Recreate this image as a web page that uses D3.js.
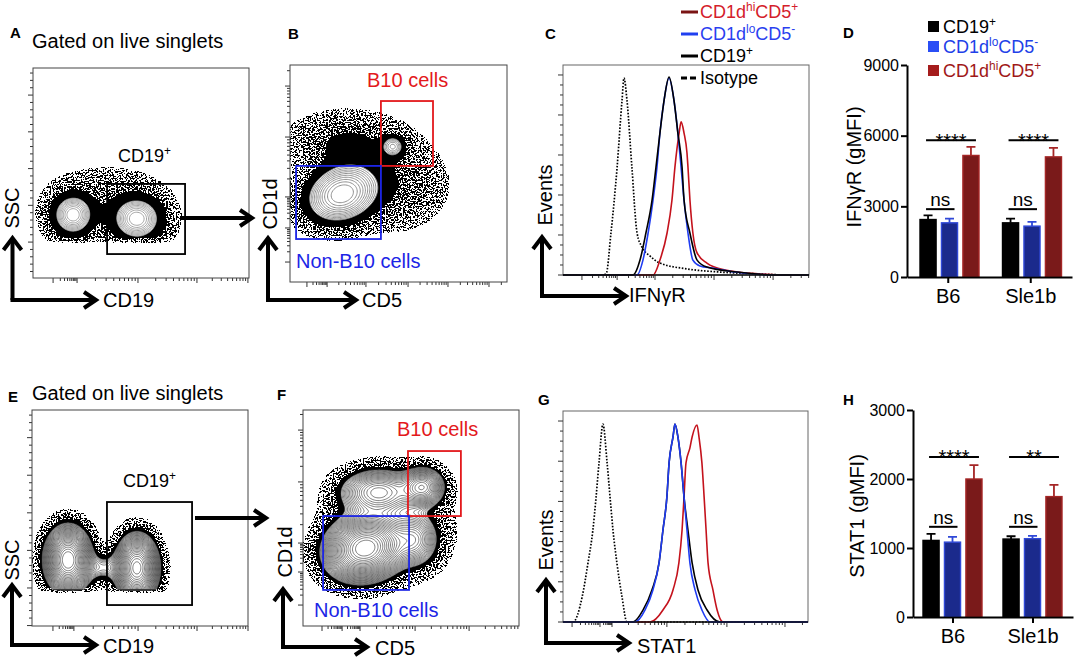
<!DOCTYPE html>
<html><head><meta charset="utf-8">
<script src="https://cdn.jsdelivr.net/npm/d3@7"></script>
<style>body{margin:0;background:#fff}</style>
</head><body>
<script>
// ---------- bar data ----------
const groups=['B6','Sle1b'];
const cellSets=['CD19+','CD1dloCD5-','CD1dhiCD5+'];
const ifngrMean=[[2440,2300,5160],[2300,2160,5100]];
const ifngrErr=[[180,180,365],[180,180,380]];
const ifngrTicks=[0,3000,6000,9000];
const ifngrSigText=[['ns','****'],['ns','****']];
const ifngrSigY=[2880,5810];
const stat1Mean=[[1110,1085,2000],[1130,1135,1745]];
const stat1Err=[[95,75,200],[40,40,170]];
const stat1Ticks=[0,1000,2000,3000];
const stat1SigText=[['ns','****'],['ns','**']];
const stat1SigY=[1307,2320];

// ---------- histogram data (x: % of axis width, y: % of axis height) ----------
const ifngrIso=[[0,0],[15,0],[17.5,0.5],[19.5,20],[22,51.4],[24,83.3],[24.8,93.8],[26,83.3],[28,51.4],[30.1,20],[32.1,13.3],[35.4,9],[39.4,5.7],[50.4,2.9],[63.8,1.4],[80,0.5],[92,0],[100,0]];
const ifngrCD19=[[0,0],[28.5,0],[31.3,7.1],[33.7,20],[36.2,35.7],[37.8,51.4],[39.4,67.6],[41.1,83.3],[43.1,94.3],[45.1,83.3],[46.7,67.6],[48.4,51.4],[49.2,35.7],[51.6,20],[54.5,7.1],[58.5,3.8],[70.7,1.4],[88,0],[100,0]];
const ifngrLo=[[0,0],[30.1,0],[32.5,7.1],[34.6,20],[36.6,35.7],[38.2,51.4],[39.4,67.6],[41.1,83.3],[43.1,93.8],[45.1,83.3],[46.7,67.6],[48,51.4],[49.2,35.7],[50.8,20],[52.8,7.1],[55.7,4.3],[60.6,3.3],[69.9,1.4],[86,0],[100,0]];
const ifngrHi=[[0,0],[36.6,0],[39.4,7.1],[42.3,20],[44.3,35.7],[45.5,51.4],[47.2,67.6],[48,72.9],[49.2,67.6],[50.4,58.1],[50.8,51.4],[51.6,35.7],[52.8,20],[54.5,10.5],[58.5,5.7],[65.9,2.4],[80,0.5],[92,0],[100,0]];
const stat1Iso=[[0,0],[4.1,0],[7.8,11.8],[10.2,28],[12.2,43.6],[13.5,59.2],[14.7,75.4],[16.3,93.8],[18,75.4],[19.2,59.2],[20.4,43.6],[22,28],[24.1,11.8],[26.1,0],[100,0]];
const stat1CD19=[[0,0],[28.6,0],[32.7,5.7],[36.3,15.2],[39.2,28],[40.8,43.6],[42.4,59.2],[43.3,75.4],[44.9,87.7],[45.7,93.8],[46.9,87.7],[48.2,75.4],[49.4,59.2],[51,43.6],[52.7,28],[55.1,15.2],[58.8,5.7],[64.1,0],[100,0]];
const stat1Lo=[[0,0],[29.4,0],[33.5,5.7],[36.7,15.2],[39.2,28],[40.8,43.6],[42.4,59.2],[43.3,75.4],[44.9,87.7],[45.7,93.8],[46.9,87.7],[48.2,75.4],[49.4,59.2],[50.6,43.6],[51.8,28],[53.9,15.2],[56.7,5.7],[60,0],[100,0]];
const stat1Hi=[[0,0],[35.5,0],[40.8,5.7],[44.9,15.2],[47.3,28],[48.6,43.6],[49.4,59.2],[50.2,75.4],[51.8,82.5],[52.7,87.7],[54.7,93.4],[55.5,87.7],[56.7,75.4],[57.6,59.2],[58.4,43.6],[59.2,28],[61.2,15.2],[62.9,5.7],[65.3,0],[100,0]];

// ---------- flow populations [cx, cy, sx, sy, tilt deg, weight] (plot units 0-100) ----------
const popA=[[18.5,30,5.6,5.8,0,1],[48.1,28.1,6.8,6.2,0,1],[34,38,14,8,0,0.06]];
const popB=[[23.8,40.5,9.7,7.3,20,1],[47.5,62.5,3.5,3.3,0,0.4],[26,64,15,8,0,0.14],[48,45,14,12,0,0.1]];
const popE=[[16.7,30.6,5.6,8,0,1],[48.6,26.9,5.2,8,0,0.95],[33,27,6,4,0,0.12]];
const popF=[[28.7,36,9.5,7.5,15,1],[35,62,10,6,0,0.35],[55.6,64.4,5.5,5,0,0.4],[52,40,6,7,0,0.25],[40,45,20,16,0,0.04]];
// gates [x0,y0,x1,y1]
const gateA=[34.3,11.4,70.4,44.8], gateE=[34.7,9.7,74.1,57.4];
const gateB10B=[41.9,53.5,65.9,83.4], gateNonB=[2.8,19.8,41.9,53.5];
const gateB10F=[48.6,50.9,73.1,81], gateNonF=[9.3,16.7,49.1,50.9];
// axis decades (plot units) and linear majors
const decA=[9.3,20.4,48.6,75.9,99.5], linA=[17.1,34.6,52.1,69.6,87.1];
const decBx=[7.8,17.1,35,54.4,72.8,91.7], decBy=[9.2,24.9,39.2,66.8,90.3];
const decE=[9.7,19.4,49.1,76.4,100], linE=[17.6,35,52.4,69.8,87.2];
const decFx=[8.8,18.1,26.4,51.9,76.9], decFy=[9.7,25,38.4,66.7,90.7];
const decC=[7.7,22,37.4,61.4,85.4], decG=[3.7,15.1,20,42.4,66.9,90.6];
const linHist=[19.05,38.1,57.1,76.2,95.2];

// ---------- styles ----------
const FONT="'Liberation Sans', Arial, Helvetica, sans-serif";
const barFill=['#000000','#1b2a8c','#7a1a1a'], barEdge=['#000000','#3049d8','#a52626'];
const RED='#e3191c', BLUE='#1c25e6';

const svg=d3.select('body').append('svg').attr('width',1074).attr('height',660).style('font-family',FONT);
const defs=svg.append('defs');
// density alpha -> stippled black dots
const flt=defs.append('filter').attr('id','speckle').attr('color-interpolation-filters','sRGB')
  .attr('x','-10%').attr('y','-10%').attr('width','120%').attr('height','120%');
flt.append('feGaussianBlur').attr('in','SourceAlpha').attr('stdDeviation',1.5).attr('result','sa');
flt.append('feTurbulence').attr('type','fractalNoise').attr('baseFrequency',0.6).attr('numOctaves',2).attr('seed',11).attr('result','noise');
flt.append('feColorMatrix').attr('in','noise').attr('type','matrix')
  .attr('values','0 0 0 0 0  0 0 0 0 0  0 0 0 0 0  12 0 0 0 -5.5').attr('result','na');
flt.append('feComposite').attr('in','sa').attr('in2','na').attr('operator','arithmetic')
  .attr('k1',0).attr('k2',8).attr('k3',-6).attr('k4',-0.1).attr('result','diff');
flt.append('feComponentTransfer').attr('in','diff').attr('result','thr').append('feFuncA').attr('type','discrete').attr('tableValues','0 1');
flt.append('feFlood').attr('flood-color','#000').attr('result','blk');
flt.append('feComposite').attr('in','blk').attr('in2','thr').attr('operator','in');

// text with superscripts: s = string or [[str, isSup], ...]
function txt(x,y,s,o={}){
  const fs=o.size||20;
  const t=svg.append('text').attr('x',x).attr('y',y).attr('font-size',fs).attr('fill',o.fill||'#000')
    .attr('text-anchor',o.anchor||'start');
  if(o.bold) t.attr('font-weight','bold');
  if(o.rot) t.attr('transform',`rotate(-90,${x},${y})`);
  if(typeof s==='string'){ t.text(s); return t; }
  let up=false;
  s.forEach(([str,sup])=>{
    const sp=t.append('tspan').text(str);
    if(sup){ sp.attr('font-size',fs*0.66); if(!up){sp.attr('dy',-fs*0.38); up=true;} }
    else if(up){ sp.attr('dy',fs*0.38); up=false; }
  });
  return t;
}

function arrows(x0,y0,yTop,xRight){
  const g=svg.append('g').attr('fill','none').attr('stroke','#000').attr('stroke-width',4);
  if(yTop!=null){
    g.append('path').attr('d',`M${x0},${yTop+3}V${y0}`);
    g.append('path').attr('d',`M${x0-9},${yTop+14}L${x0},${yTop+2}L${x0+9},${yTop+14}`);
  }
  g.append('path').attr('d',`M${x0-2},${y0}H${xRight-3}`);
  g.append('path').attr('d',`M${xRight-13},${y0-8}L${xRight-1},${y0}L${xRight-13},${y0+8}`);
}

function logTicks(dec){
  const step=dec[dec.length-1]-dec[dec.length-2], all=dec.slice();
  while(all[all.length-1]+step<=100.5) all.push(all[all.length-1]+step);
  const out=[];
  all.forEach((a,i)=>{
    out.push({v:a,major:true});
    const b=i+1<all.length?all[i+1]:a+step;
    for(let k=2;k<10;k++) out.push({v:a+(b-a)*Math.log10(k),major:false});
  });
  return out.filter(t=>t.v>=0&&t.v<=100);
}
function linTicks(maj,sub){
  const st=(maj[1]-maj[0])/sub, out=[];
  for(let k=-40;k<=40;k++){ const v=maj[0]+k*st; if(v>=0&&v<=100) out.push({v,major:((k%sub)+sub)%sub===0}); }
  return out;
}
function drawTicks(x,y,bottom,left){
  const g=svg.append('g').attr('stroke','#333').attr('stroke-width',1);
  const yb=y(0), xl=x(0);
  bottom.forEach(t=>g.append('line').attr('x1',x(t.v)).attr('x2',x(t.v)).attr('y1',yb).attr('y2',yb+(t.major?5:3)));
  left.forEach(t=>g.append('line').attr('y1',y(t.v)).attr('y2',y(t.v)).attr('x1',xl).attr('x2',xl-(t.major?5:3)));
}

let clipN=0;
function flowPanel(c){
  const [bx0,by0,bx1,by1]=c.box;
  const x=d3.scaleLinear([0,100],[bx0,bx1]), y=d3.scaleLinear([0,100],[by1,by0]);
  const n=180, vals=new Array(n*n);
  for(let j=0;j<n;j++){ const yd=100-(j+0.5)*100/n;
    for(let i=0;i<n;i++){ const xd=(i+0.5)*100/n; let v=0;
      if(yd>=c.floor) for(const [cx,cy,sx,sy,a,w] of c.pops){
        const t=a*Math.PI/180, dx=xd-cx, dy=yd-cy;
        const u=(dx*Math.cos(t)+dy*Math.sin(t))/sx, q=(-dx*Math.sin(t)+dy*Math.cos(t))/sy;
        v+=w*Math.exp(-0.5*(u*u+q*q)); }
      vals[j*n+i]=v; } }
  const vmax=d3.max(vals);
  const path=d3.geoPath(d3.geoTransform({point(px,py){this.stream.point(x(px*100/n),y(100-py*100/n));}}));
  const id='clip'+(clipN++);
  defs.append('clipPath').attr('id',id).append('rect').attr('x',bx0).attr('y',by0).attr('width',bx1-bx0).attr('height',by1-by0);
  const g=svg.append('g').attr('clip-path',`url(#${id})`);
  // dense dot halo
  const N=8, hl=d3.range(N).map(k=>c.lo*Math.pow(c.solid/c.lo,k/(N-1)));
  const halo=g.append('g').attr('filter','url(#speckle)');
  let prev=0;
  d3.contours().size([n,n]).thresholds(hl)(vals).forEach((m,k)=>{
    const A=0.1+(c.amax-0.1)*k/(N-1), a=1-(1-A)/(1-prev); prev=A;
    halo.append('path').attr('d',path(m)).attr('fill','#000').attr('fill-opacity',a);
  });
  // probability contours
  const cl=d3.range(c.nLines).map(k=>c.white*Math.pow(vmax*0.97/c.white,k/c.nLines));
  const cs=d3.contours().size([n,n]).thresholds(cl)(vals);
  g.append('path').attr('d',path(cs[0])).attr('fill','#fff');
  g.selectAll(null).data(cs).join('path').attr('d',d=>path(d)).attr('fill','none')
    .attr('stroke',c.line).attr('stroke-width',c.lw);
  // gates
  c.gates.forEach(([gt,col])=>svg.append('rect').attr('x',x(gt[0])).attr('y',y(gt[3]))
    .attr('width',x(gt[2])-x(gt[0])).attr('height',y(gt[1])-y(gt[3]))
    .attr('fill','none').attr('stroke',col).attr('stroke-width',1.8));
  drawTicks(x,y,logTicks(c.bx),c.ly.lin?linTicks(c.ly.lin,5):logTicks(c.ly.dec));
  svg.append('rect').attr('x',bx0).attr('y',by0).attr('width',bx1-bx0).attr('height',by1-by0)
    .attr('fill','none').attr('stroke','#444').attr('stroke-width',1);
}

function histPanel(c){
  const [bx0,by0,bx1,by1]=c.box;
  const x=d3.scaleLinear([0,100],[bx0,bx1]), y=d3.scaleLinear([0,100],[by1,by0]);
  svg.append('rect').attr('x',bx0).attr('y',by0).attr('width',bx1-bx0).attr('height',by1-by0)
    .attr('fill','none').attr('stroke','#666').attr('stroke-width',1);
  drawTicks(x,y,logTicks(c.dec),linTicks(linHist,4));
  const line=d3.line().x(d=>x(d[0])).y(d=>y(d[1])).curve(d3.curveMonotoneX);
  c.curves.forEach(([data,col,dash])=>svg.append('path').attr('d',line(data)).attr('fill','none')
    .attr('stroke',col).attr('stroke-width',dash?1.7:1.6).attr('stroke-dasharray',dash||null));
  svg.append('line').attr('x1',bx0).attr('x2',bx1).attr('y1',y(0)).attr('y2',y(0)).attr('stroke','#111').attr('stroke-width',1.4);
}

function barPanel(c){
  const y=d3.scaleLinear([0,c.max],[c.yb,c.yt]);
  const gx=d3.scaleBand(groups,[c.ax,c.xr]);
  const sx=d3.scaleBand(cellSets,c.inner).paddingInner(0.25);
  const bw=sx.bandwidth();
  groups.forEach((grp,gi)=>{
    cellSets.forEach((s,si)=>{
      const x0=gx(grp)+sx(s), m=c.mean[gi][si], top=y(m+c.err[gi][si]), cx=x0+bw/2;
      svg.append('path').attr('d',`M${cx},${y(m)}V${top}M${cx-4.5},${top}H${cx+4.5}`)
        .attr('stroke',barEdge[si]).attr('stroke-width',1.8).attr('fill','none');
      svg.append('rect').attr('x',x0).attr('y',y(m)).attr('width',bw).attr('height',y(0)-y(m))
        .attr('fill',barFill[si]).attr('stroke',barEdge[si]).attr('stroke-width',1.4);
    });
    c.sigText[gi].forEach((lab,j)=>{
      const xa=gx(grp)+sx(cellSets[0])+bw/2-2, xb=gx(grp)+sx(cellSets[j+1])+bw/2+5, yy=y(c.sigY[j]);
      svg.append('line').attr('x1',xa).attr('x2',xb).attr('y1',yy).attr('y2',yy).attr('stroke','#000').attr('stroke-width',2);
      txt((xa+xb)/2, lab==='ns'?yy-3:yy+7.5, lab, {size:lab==='ns'?19:20, anchor:'middle'});
    });
  });
  const ya=svg.append('g').attr('transform',`translate(${c.ax},0)`)
    .call(d3.axisLeft(y).tickValues(c.ticks).tickFormat(d3.format('d')).tickSize(6).tickSizeOuter(0).tickPadding(2));
  const xa=svg.append('g').attr('transform',`translate(0,${c.yb})`)
    .call(d3.axisBottom(gx).tickSize(6).tickSizeOuter(0).tickPadding(6));
  [ya,xa].forEach(a=>{ a.select('.domain').attr('stroke-width',2); a.selectAll('.tick line').attr('stroke-width',2);
    a.selectAll('text').style('font-family',FONT).attr('fill','#000'); });
  ya.selectAll('text').attr('font-size',16);
  xa.selectAll('text').attr('font-size',20);
}

// ================= top row =================
txt(10,38,'A',{size:15,bold:true});
txt(32,48,'Gated on live singlets');
flowPanel({box:[33,68,249,278],floor:17.6,pops:popA,lo:0.01,solid:0.12,white:0.42,amax:0.86,nLines:9,line:'#999',lw:0.9,
  gates:[[gateA,'#000']],bx:decA,ly:{lin:linA}});
txt(118,162,[['CD19',0],['+',1]],{size:18});
arrows(182,218,null,253);
arrows(12.5,300,236,97);
txt(19,208,'SSC',{rot:true,anchor:'middle'});
txt(103,307,'CD19');

txt(288,39,'B',{size:15,bold:true});
flowPanel({box:[290,65,507,282],floor:0,pops:popB,lo:0.018,solid:0.12,white:0.3,amax:0.86,nLines:11,line:'#8f8f8f',lw:1,
  gates:[[gateB10B,RED],[gateNonB,BLUE]],bx:decBx,ly:{dec:decBy}});
txt(367,87,'B10 cells',{fill:RED});
txt(296,268,'Non-B10 cells',{fill:BLUE});
arrows(268,300,236,357);
txt(277,204,'CD1d',{rot:true,anchor:'middle'});
txt(362,307,'CD5');

txt(545,39,'C',{size:15,bold:true});
histPanel({box:[563,65,809,275],dec:decC,curves:[[ifngrIso,'#000','1.6 1.6'],[ifngrHi,'#c4121c'],[ifngrLo,'#1f3cf2'],[ifngrCD19,'#000']]});
arrows(542,296,235,627);
txt(552,195,'Events',{rot:true,anchor:'middle'});
txt(629,302,'IFNγR');
// legend C
const legC=[[[['CD1d',0],['hi',1],['CD5',0],['+',1]],'#7a1414','#d4202a',null],
            [[['CD1d',0],['lo',1],['CD5',0],['-',1]],'#2040f0','#2a3ff0',null],
            [[['CD19',0],['+',1]],'#000','#000',null],
            ['Isotype','#000','#000','6 3']];
legC.forEach(([lab,lc,tc,dash],i)=>{
  const yb=18+i*22;
  svg.append('line').attr('x1',681).attr('x2',698).attr('y1',yb-6).attr('y2',yb-6).attr('stroke',lc)
    .attr('stroke-width',3).attr('stroke-dasharray',dash);
  txt(700,yb,lab,{size:18,fill:tc});
});

txt(843,38,'D',{size:15,bold:true});
barPanel({ax:907,xr:1072,yt:65,yb:277,max:9000,inner:[13,72],ticks:ifngrTicks,mean:ifngrMean,err:ifngrErr,sigText:ifngrSigText,sigY:ifngrSigY});
txt(861,167,'IFNγR (gMFI)',{rot:true,anchor:'middle'});
const legD=[[[['CD19',0],['+',1]],'#000','#000'],[[['CD1d',0],['lo',1],['CD5',0],['-',1]],'#2a4ef5','#2140e8'],[[['CD1d',0],['hi',1],['CD5',0],['+',1]],'#a51c1c','#a01818']];
legD.forEach(([lab,sq,tc],i)=>{
  const yb=[33,53,77][i];
  svg.append('rect').attr('x',928).attr('y',yb-12).attr('width',11).attr('height',11).attr('fill',sq);
  txt(943,yb,lab,{size:18,fill:tc});
});

// ================= bottom row =================
txt(8,402,'E',{size:15,bold:true});
txt(32,400,'Gated on live singlets');
flowPanel({box:[32,410,248,626],floor:16.5,pops:popE,lo:0.012,solid:0.06,white:0.1,amax:0.9,nLines:28,line:'#3a3a3a',lw:0.65,
  gates:[[gateE,'#000']],bx:decE,ly:{lin:linE}});
txt(123,487,[['CD19',0],['+',1]],{size:18});
arrows(197,518,null,267);
arrows(12,645,583,97);
txt(19,560,'SSC',{rot:true,anchor:'middle'});
txt(103,653,'CD19');

txt(277,400,'F',{size:15,bold:true});
flowPanel({box:[303,410,519,626],floor:0,pops:popF,lo:0.012,solid:0.06,white:0.09,amax:0.9,nLines:30,line:'#3a3a3a',lw:0.65,
  gates:[[gateB10F,RED],[gateNonF,BLUE]],bx:decFx,ly:{dec:decFy}});
txt(397,436,'B10 cells',{fill:RED});
txt(314,617,'Non-B10 cells',{fill:BLUE});
arrows(283,647,587,368);
txt(292,552,'CD1d',{rot:true,anchor:'middle'});
txt(375,655,'CD5');

txt(538,405,'G',{size:15,bold:true});
histPanel({box:[563,411,808,622],dec:decG,curves:[[stat1Iso,'#000','1.6 1.6'],[stat1Hi,'#c4121c'],[stat1CD19,'#000'],[stat1Lo,'#1f3cf2']]});
arrows(546,643,578,630);
txt(553,540,'Events',{rot:true,anchor:'middle'});
txt(637,653,'STAT1');

txt(843,405,'H',{size:15,bold:true});
barPanel({ax:913,xr:1073,yt:410,yb:617,max:3000,inner:[10,69],ticks:stat1Ticks,mean:stat1Mean,err:stat1Err,sigText:stat1SigText,sigY:stat1SigY});
txt(864,516,'STAT1 (gMFI)',{rot:true,anchor:'middle'});
</script>
</body></html>
